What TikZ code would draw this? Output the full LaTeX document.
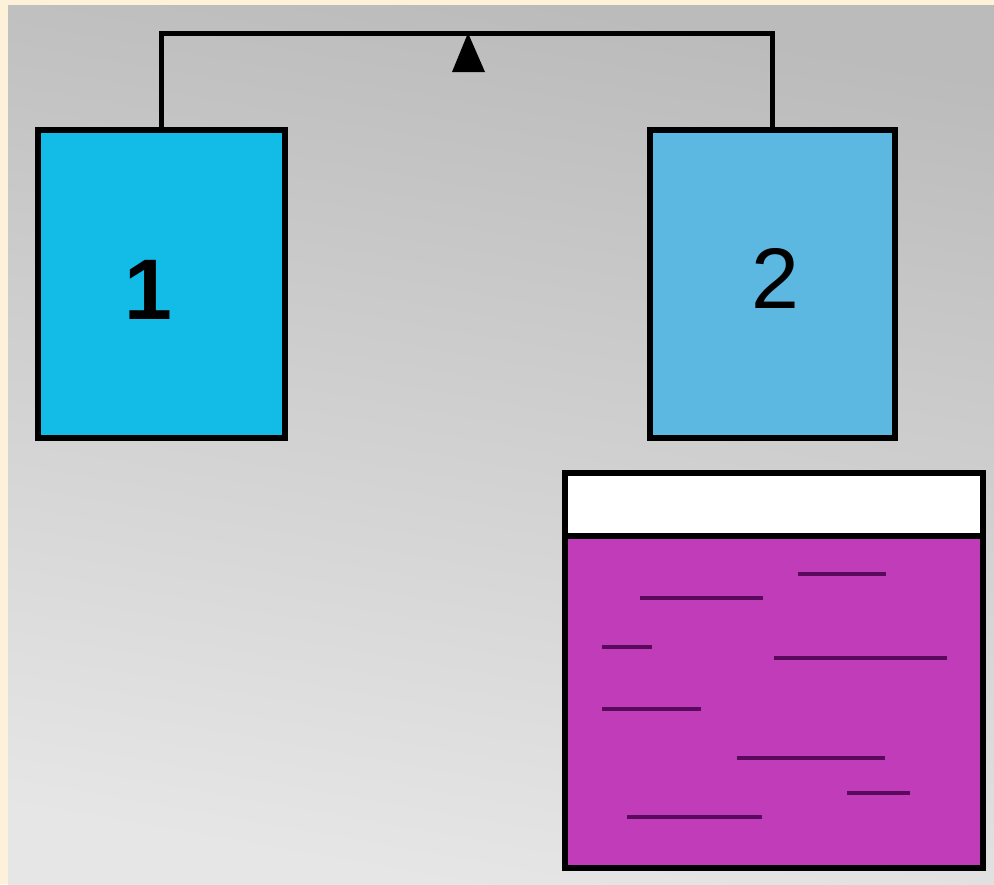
\documentclass[tikz,border=0pt]{standalone}
\usepackage{fontspec}
\setmainfont{Liberation Sans}
\usetikzlibrary{positioning}
\definecolor{peach}{HTML}{FDF1DA}
\definecolor{bgtop}{HTML}{BBBBBB}
\definecolor{bgbottom}{HTML}{E6E6E6}
\definecolor{cyanbox}{HTML}{13BBE7}
\definecolor{bluebox}{HTML}{5CB8E1}
\definecolor{padfill}{HTML}{C03CB9}
\definecolor{padline}{HTML}{5A0A5C}
\tikzset{
    block/.style={draw=black, rectangle, minimum height=154pt, inner sep=0pt},
    digit/.style={font=\fontsize{43}{43}\selectfont, inner sep=0pt}
}

\begin{document}
\begin{tikzpicture}[x=.5pt, y=-.5pt, line width=2.8pt]
            \useasboundingbox (0,0) rectangle (994,884);
            % Hintergrund.
            \fill[peach] (0,0) rectangle (994,884);
            \shade[top color=bgtop, bottom color=bgbottom, shading angle=-10] (8,5) rectangle (994,884);

            % Kaesten.
            \node[block, fill=cyanbox, minimum width=123.5pt] (one) at (161.5,284) {};
            \node[block, fill=bluebox, minimum width=122.5pt] (two) at (772.5,284) {};
            \node[digit, font=\fontsize{43}{43}\selectfont\bfseries] (onelabel) at (148,290) {1};
            \node[digit] (twolabel) at (775,278) {2};

            % Verbindung.
            \coordinate (top) at (161.5,33);
            \draw[line join=miter, line width=2.5pt] (one.north) -- (top) -| (two.north);
            \fill[black] (468,33) -- (485,72) -- (452,72) -- cycle;

            % Block unten.
            \fill[padfill] (565,536) rectangle (983,868);
            \fill[white] (565,473) rectangle (983,536);
            \draw (565,536) -- (983,536);
            \draw (565,473) rectangle (983,868);
            \foreach \xa/\xb/\yy in {798/886/574, 640/763/598, 602/652/647, 774/947/658,
                                     602/701/709, 737/885/758, 847/910/793, 627/762/817}
            {
                \draw[padline, line width=1.7pt] (\xa,\yy) -- (\xb,\yy);
            }
        \end{tikzpicture}
\end{document}
